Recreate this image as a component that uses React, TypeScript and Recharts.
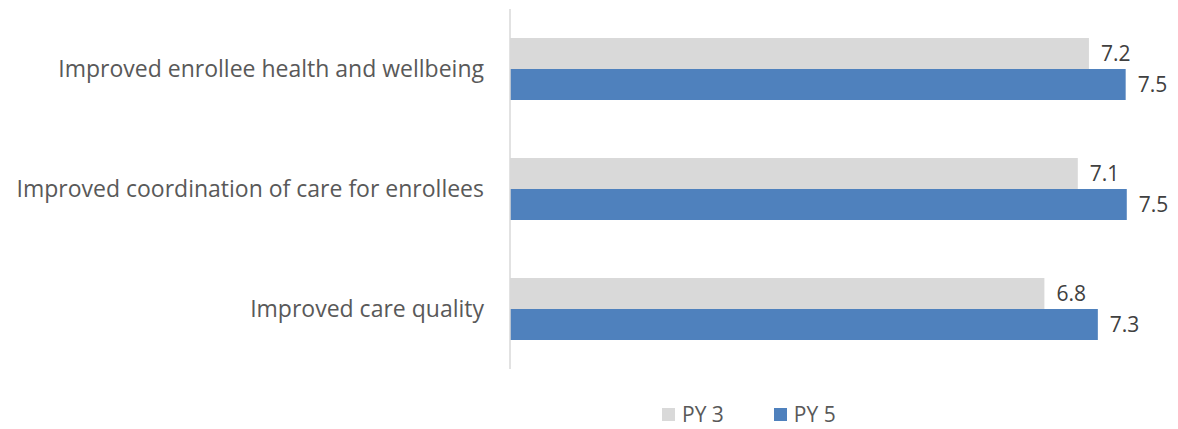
import { Bar, BarChart, LabelList, Legend, XAxis, YAxis } from "recharts";

const categories = [
  "Improved enrollee health and wellbeing",
  "Improved coordination of care for enrollees",
  "Improved care quality",
];
const py3 = [7.2, 7.1, 6.8];
const py5 = [7.53, 7.54, 7.28];
const seriesNames = ["PY 3", "PY 5"];
const colors = ["#d9d9d9", "#4f81bd"];

const data = categories.map((name, i) => ({ name, py3: py3[i], py5: py5[i] }));

const font = "'Open Sans', sans-serif";

function LegendBox() {
  return (
    <div
      style={{
        display: "flex",
        justifyContent: "flex-start",
        gap: 50,
        fontFamily: font,
        fontSize: 21,
        lineHeight: "24px",
        color: "#595959",
        paddingLeft: 662,
        height: 24,
        alignItems: "center",
      }}
    >
      {seriesNames.map((n, i) => (
        <div key={n} style={{ display: "flex", alignItems: "center", gap: 7 }}>
          <span style={{ width: 13, height: 13, background: colors[i], display: "inline-block" }} />
          <span>{n}</span>
        </div>
      ))}
    </div>
  );
}

export default function App() {
  return (
    <div style={{ position: "absolute", left: 0, top: 0 }}>
      <BarChart
        width={1178}
        height={429}
        data={data}
        layout="vertical"
        margin={{ top: 9, right: 0, left: 0, bottom: 36 }}
        barGap={0}
      >
        <XAxis type="number" domain={[2, 8]} hide />
        <YAxis
          type="category"
          dataKey="name"
          width={510}
          tickLine={false}
          tickSize={0}
          tickMargin={26}
          axisLine={{ stroke: "#d9d9d9", strokeWidth: 1.5 }}
          tick={{ fill: "#595959", fontSize: 23, fontFamily: font }}
        />
        <Legend
          verticalAlign="bottom"
          wrapperStyle={{ left: 0, width: 1178, bottom: 3 }}
          content={() => <LegendBox />}
        />
        <Bar dataKey="py3" fill={colors[0]} barSize={31} isAnimationActive={false}>
          <LabelList
            dataKey="py3"
            position="right"
            offset={12}
            formatter={(v: number) => v.toFixed(1)}
            style={{ fill: "#404040", fontSize: 21, fontFamily: font }}
          />
        </Bar>
        <Bar dataKey="py5" fill={colors[1]} barSize={31} isAnimationActive={false}>
          <LabelList
            dataKey="py5"
            position="right"
            offset={12}
            formatter={(v: number) => v.toFixed(1)}
            style={{ fill: "#404040", fontSize: 21, fontFamily: font }}
          />
        </Bar>
      </BarChart>
    </div>
  );
}
